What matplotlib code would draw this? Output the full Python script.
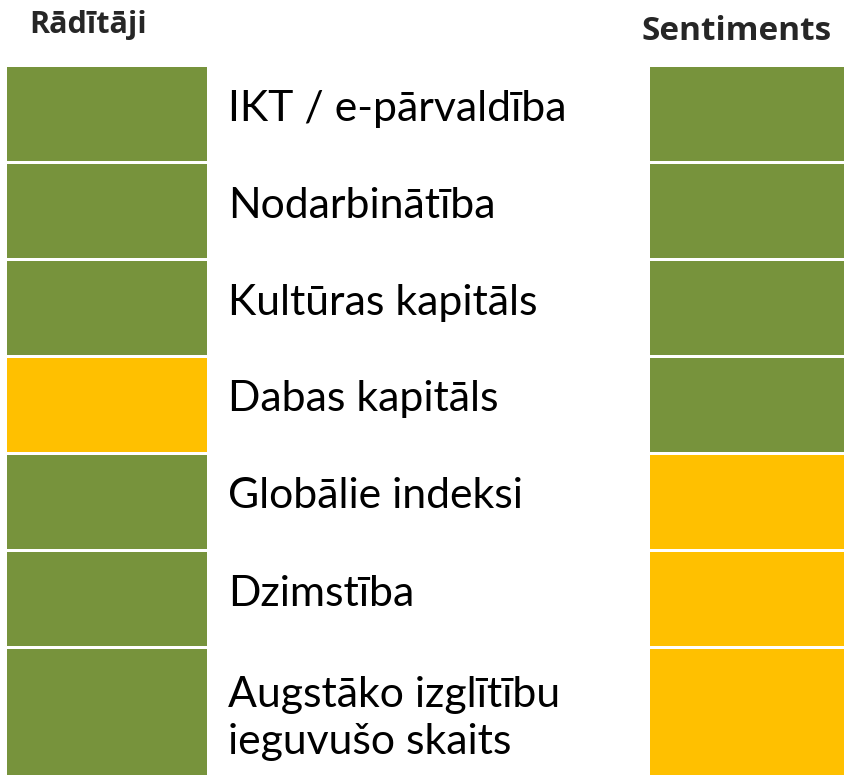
"""Indicator vs sentiment status grid."""

import matplotlib

matplotlib.use("Agg")
import matplotlib.pyplot as plt

GREEN = "#77933C"
AMBER = "#FFC000"

indicators = [
    "IKT / e-pārvaldība",
    "Nodarbinātība",
    "Kultūras kapitāls",
    "Dabas kapitāls",
    "Globālie indeksi",
    "Dzimstība",
    "Augstāko izglītību\nieguvušo skaits",
]
raditaji_status = ["ok", "ok", "ok", "warn", "ok", "ok", "ok"]
sentiment_status = ["ok", "ok", "ok", "ok", "warn", "warn", "warn"]
row_weight = [1, 1, 1, 1, 1, 1, 1.45]

status_colors = {"ok": GREEN, "warn": AMBER}

fig = plt.figure(figsize=(8.44, 7.75), dpi=100)
ax = fig.add_axes([0, 0, 1, 1])
ax.set_xlim(0, 844)
ax.set_ylim(775, 0)
ax.axis("off")

top = 66.5
pitch = 97.0
gap = 3.0
tops = []
heights = []
y = top
for w in row_weight:
    tops.append(y)
    heights.append(pitch * w - gap)
    y += pitch * w

ax.bar(
    [107] * len(indicators), heights, bottom=tops, width=200,
    color=[status_colors[s] for s in raditaji_status], align="center",
)
ax.bar(
    [747] * len(indicators), heights, bottom=tops, width=194,
    color=[status_colors[s] for s in sentiment_status], align="center",
)

for t, h, label in zip(tops, heights, indicators):
    n_lines = label.count("\n") + 1
    cy = t + 42 if n_lines == 1 else t + 70
    ax.text(228, cy, label, ha="left", va="center", fontsize=30.8,
            family="Lato", color="black", linespacing=1.32)

ax.text(88, 25, "Rādītāji", ha="center", va="center", fontsize=22,
        fontweight="bold", family="Open Sans", color="#262626")
ax.text(737, 31, "Sentiments", ha="center", va="center", fontsize=24,
        fontweight="bold", family="Open Sans", color="#262626")

fig.savefig("out.png", dpi=100)
